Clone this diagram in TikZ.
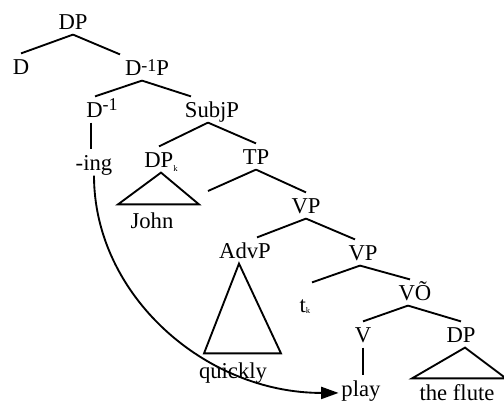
\documentclass[tikz,border=0pt]{standalone}
\usepackage{fontspec}
\setmainfont{Liberation Serif}
\usetikzlibrary{arrows.meta}
\newcommand{\invsup}[1]{\raisebox{#1}{\fontsize{13.5}{13.5}\selectfont -1}}
\newcommand{\idx}[2]{\raisebox{#1}{\fontsize{6.5}{6.5}\selectfont #2}}

\begin{document}
\begin{tikzpicture}[
    x=0.75pt, y=-0.75pt,
    cat/.style={anchor=base, inner xsep=2pt, inner ysep=4pt, text height=11.25pt, text depth=0pt, font=\fontsize{17}{20}\selectfont},
    branch/.style={line width=1.4pt},
    move/.style={line width=1.4pt, -{Triangle[length=13pt, width=9pt]}}
]
\useasboundingbox (0,0) rectangle (504,404);

% Upper tree
\node[cat] (dp) at (73,29) {DP};
\node[cat] (d) at (21,74) {D};
\node[cat] (dm1p) at (147,75) {D\invsup{2.5pt}P};
\node[cat] (dm1) at (102,117) {D\invsup{5pt}};
\node[cat] (subjp) at (212,117) {SubjP};
\node[cat] (ing) at (94,170) {-ing};
\node[cat] (dpk) at (161,167) {DP\idx{-3pt}{k}};
\node[cat] (tp) at (256,164) {TP};
\coordinate (tpl) at (208,191);
\node[cat] (john) at (152,228) {John};

% Verb phrase
\node[cat] (vp) at (306,213) {VP};
\node[cat] (advp) at (245,258) {AdvP};
\node[cat] (vpb) at (363,260) {VP};
\node[cat] (tk) at (305,312) {t\idx{-1pt}{k}};
\node[cat] (vo) at (415,300) {VÕ};
\node[cat] (v) at (363,342) {V};
\node[cat] (dpo) at (461,342) {DP};
\node[cat] (quickly) at (233,378) {quickly};
\node[cat] (play) at (361,396) {play};
\node[cat] (flute) at (457,400) {the flute};

% Branches
\draw[branch] (dp.south) -- (d.north);
\draw[branch] (dp.south) -- ([shift={(-27,0)}]dm1p.north);
\draw[branch] ([shift={(-5,0)}]dm1p.south) -- ([shift={(-7,0)}]dm1.north);
\draw[branch] ([shift={(-5,0)}]dm1p.south) -- ([shift={(-21,0)}]subjp.north);
\draw[branch] ([shift={(-11,0)}]dm1.south) -- ([shift={(-3,0)}]ing.north);
\draw[branch] ([shift={(-4,0)}]subjp.south) -- ([shift={(-2,0)}]dpk.north);
\draw[branch] ([shift={(-4,0)}]subjp.south) -- (tp.north);
\draw[branch] (tp.south) -- (tpl);
\draw[branch] (tp.south) -- (vp.north);
\draw[branch] (vp.south) -- ([shift={(12,0)}]advp.north);
\draw[branch] (vp.south) -- ([shift={(-8,0)}]vpb.north);
\draw[branch] ([shift={(-3,0)}]vpb.south) -- ([shift={(7,-9)}]tk.north);
\draw[branch] ([shift={(-3,0)}]vpb.south) -- ([shift={(-5,0)}]vo.north);
\draw[branch] ([shift={(-7,0)}]vo.south) -- (v.north);
\draw[branch] ([shift={(-7,0)}]vo.south) -- (dpo.north);
\draw[branch] (v.south) -- ([shift={(2,0)}]play.north);

% Triangles
\draw[branch] (dpk.south) -- ([shift={(-34,-3)}]john.north) -- ([shift={(47,-3)}]john.north) -- cycle;
\draw[branch] ([shift={(-6,0)}]advp.south) -- ([shift={(-29,-4)}]quickly.north) -- ([shift={(48,-4)}]quickly.north) -- cycle;
\draw[branch] ([shift={(4,0)}]dpo.south) -- ([shift={(-45,-1)}]flute.north) -- ([shift={(49,-1)}]flute.north) -- cycle;

% Movement
\draw[move] (ing.south) .. controls +(0,119) and +(-134,0) .. (play.mid west);
\end{tikzpicture}
\end{document}
